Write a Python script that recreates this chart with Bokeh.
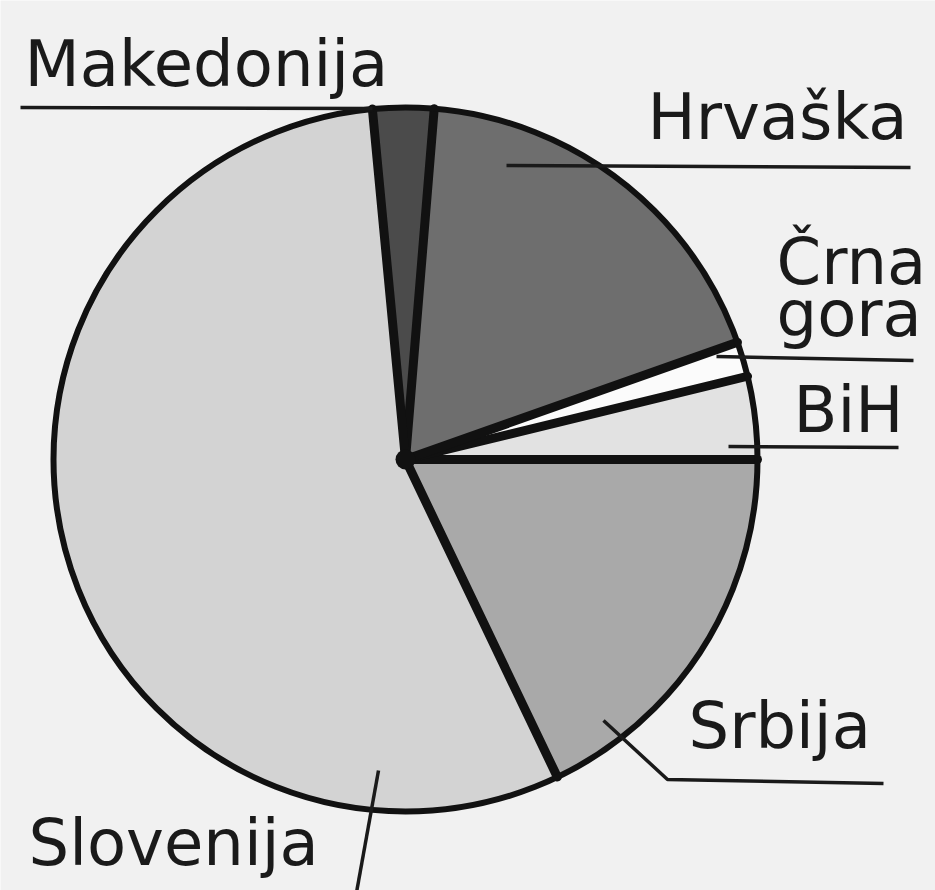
import numpy as np
from bokeh.plotting import figure
from bokeh.models import Range1d
from bokeh.core.properties import value
from bokeh.embed import file_html
from bokeh.resources import INLINE

# ---- data ----
regions = ["BiH", "Črna gora", "Hrvaška", "Makedonija", "Slovenija", "Srbija"]
shares = [3.8, 1.6, 18.3, 2.8, 55.6, 17.9]
fills = ["#e2e2e2", "#fbfbfb", "#6e6e6e", "#4b4b4b", "#d3d3d3", "#a9a9a9"]

# ---- label placement (reference pixel coordinates) ----
label_x = [793, 776, 647, 24, 28, 688]
label_baseline = [434, 286, 141, 88, 867, 750]
leaders_x = [[728, 898], [716, 913], [506, 910], [20, 372], [378, 356], [603, 667, 883]]
leaders_y = [[446, 447], [356, 360], [165, 167], [107, 108], [770, 892], [720, 779, 783]]

REF_W, REF_H = 935, 890
TEXT_SHIFT = 25  # compensates the renderer's baseline offset


def Y(y):
    return REF_H - np.asarray(y, dtype=float)


p = figure(width=REF_W, height=REF_H, x_range=Range1d(0, REF_W), y_range=Range1d(0, REF_H),
           output_backend="svg", toolbar_location=None, min_border=0)
p.axis.visible = False
p.grid.visible = False
p.outline_line_color = None
p.background_fill_color = "#f1f1f1"
p.border_fill_color = "#f1f1f1"

cx, cy, r = 405.0, float(Y(459)), 352.0
frac = np.array(shares) / sum(shares)
ends = np.cumsum(frac) * 2 * np.pi
starts = ends - frac * 2 * np.pi

p.wedge(x=cx, y=cy, radius=r, start_angle=starts, end_angle=ends,
        fill_color=fills, line_color=None)

# radial separators
p.segment(x0=[cx] * len(starts), y0=[cy] * len(starts),
          x1=cx + r * np.cos(starts), y1=cy + r * np.sin(starts),
          line_color="#111111", line_width=9, line_cap="round")
p.scatter(x=[cx], y=[cy], size=20, marker="circle", fill_color="#111111", line_color=None)
# outer rim
p.circle(x=cx, y=cy, radius=r, fill_color=None, line_color="#111111", line_width=6)

# leader lines
p.multi_line(xs=leaders_x, ys=[list(Y(v)) for v in leaders_y],
             line_color="#1a1a1a", line_width=3.5)

# labels
font = value("DejaVu Sans")
for name, lx, lb in zip(regions, label_x, label_baseline):
    parts = name.split(" ")
    for k, part in enumerate(parts):
        p.text(x=[lx], y=[float(Y(lb + 52 * k - TEXT_SHIFT))], text=[part], text_font=font,
               text_font_size="64px", text_color="#1a1a1a",
               text_align="left", text_baseline="alphabetic")

open("out.html", "w").write(file_html(p, INLINE))
